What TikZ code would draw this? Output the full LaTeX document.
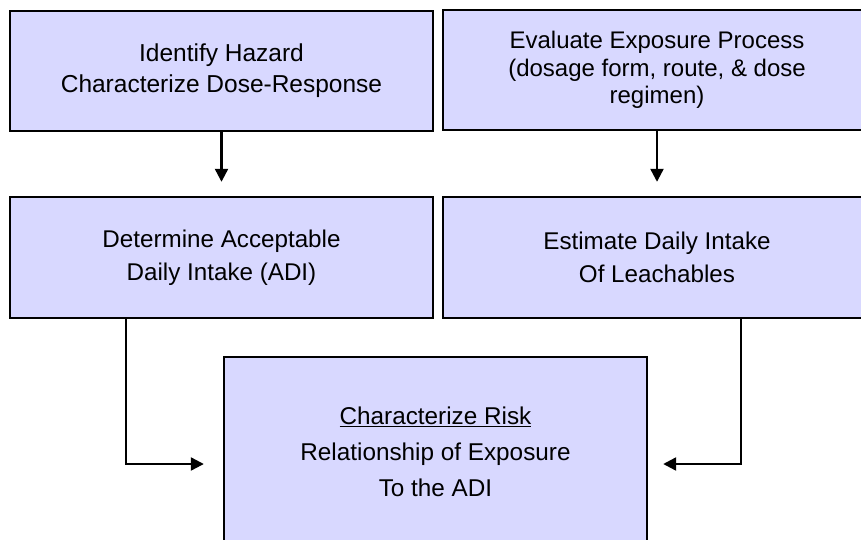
\documentclass[tikz,border=0pt]{standalone}
\usepackage{fontspec}
\setmainfont{Liberation Sans}
\usetikzlibrary{arrows.meta}
\definecolor{boxfill}{RGB}{216,216,255}
\begin{document}
\begin{tikzpicture}[x=1pt,y=-1pt,
  box/.style={draw=black, line width=2.4pt, fill=boxfill, rectangle, inner sep=0pt,
    align=center, minimum width=423pt, minimum height=121pt},
  arr/.style={line width=2.3pt, -{Triangle[length=13pt,width=13pt]}}]
\useasboundingbox (0,0) rectangle (861,540);
\fill[white] (0,0) rectangle (861,540);
\node[box, font=\fontsize{24.5}{31}\selectfont, minimum height=120pt] (tl) at (221.5,71)
  {Identify Hazard\\Characterize Dose-Response};
\node[box, font=\fontsize{24}{27.5}\selectfont, minimum width=428pt, minimum height=120pt] (tr) at (657,70)
  {Evaluate Exposure Process\\(dosage form, route, \& dose\\regimen)};
\node[box, font=\fontsize{24.2}{32.5}\selectfont] (ml) at (221.5,257.5)
  {Determine Acceptable\\Daily Intake (ADI)};
\node[box, font=\fontsize{24.2}{32.5}\selectfont, minimum width=428pt] (mr) at (657,257.5)
  {Estimate Daily Intake\\Of Leachables};
\node[box, font=\fontsize{24.3}{36}\selectfont, minimum height=190pt] (rk) at (435.5,452)
  {\underline{Characterize Risk}\\Relationship of Exposure\\To the ADI};
\coordinate (cl) at (126,464);
\coordinate (cr) at (741,464);
\draw[arr, shorten >=14pt] (tl.south) -- (ml.north);
\draw[arr, shorten >=14pt] (tr.south) -- (mr.north);
\draw[arr, shorten >=19pt] (ml.south -| cl) -- (cl) -- (rk.west |- cl);
\draw[arr, shorten >=15pt] (mr.south -| cr) -- (cr) -- (rk.east |- cr);
\end{tikzpicture}
\end{document}
